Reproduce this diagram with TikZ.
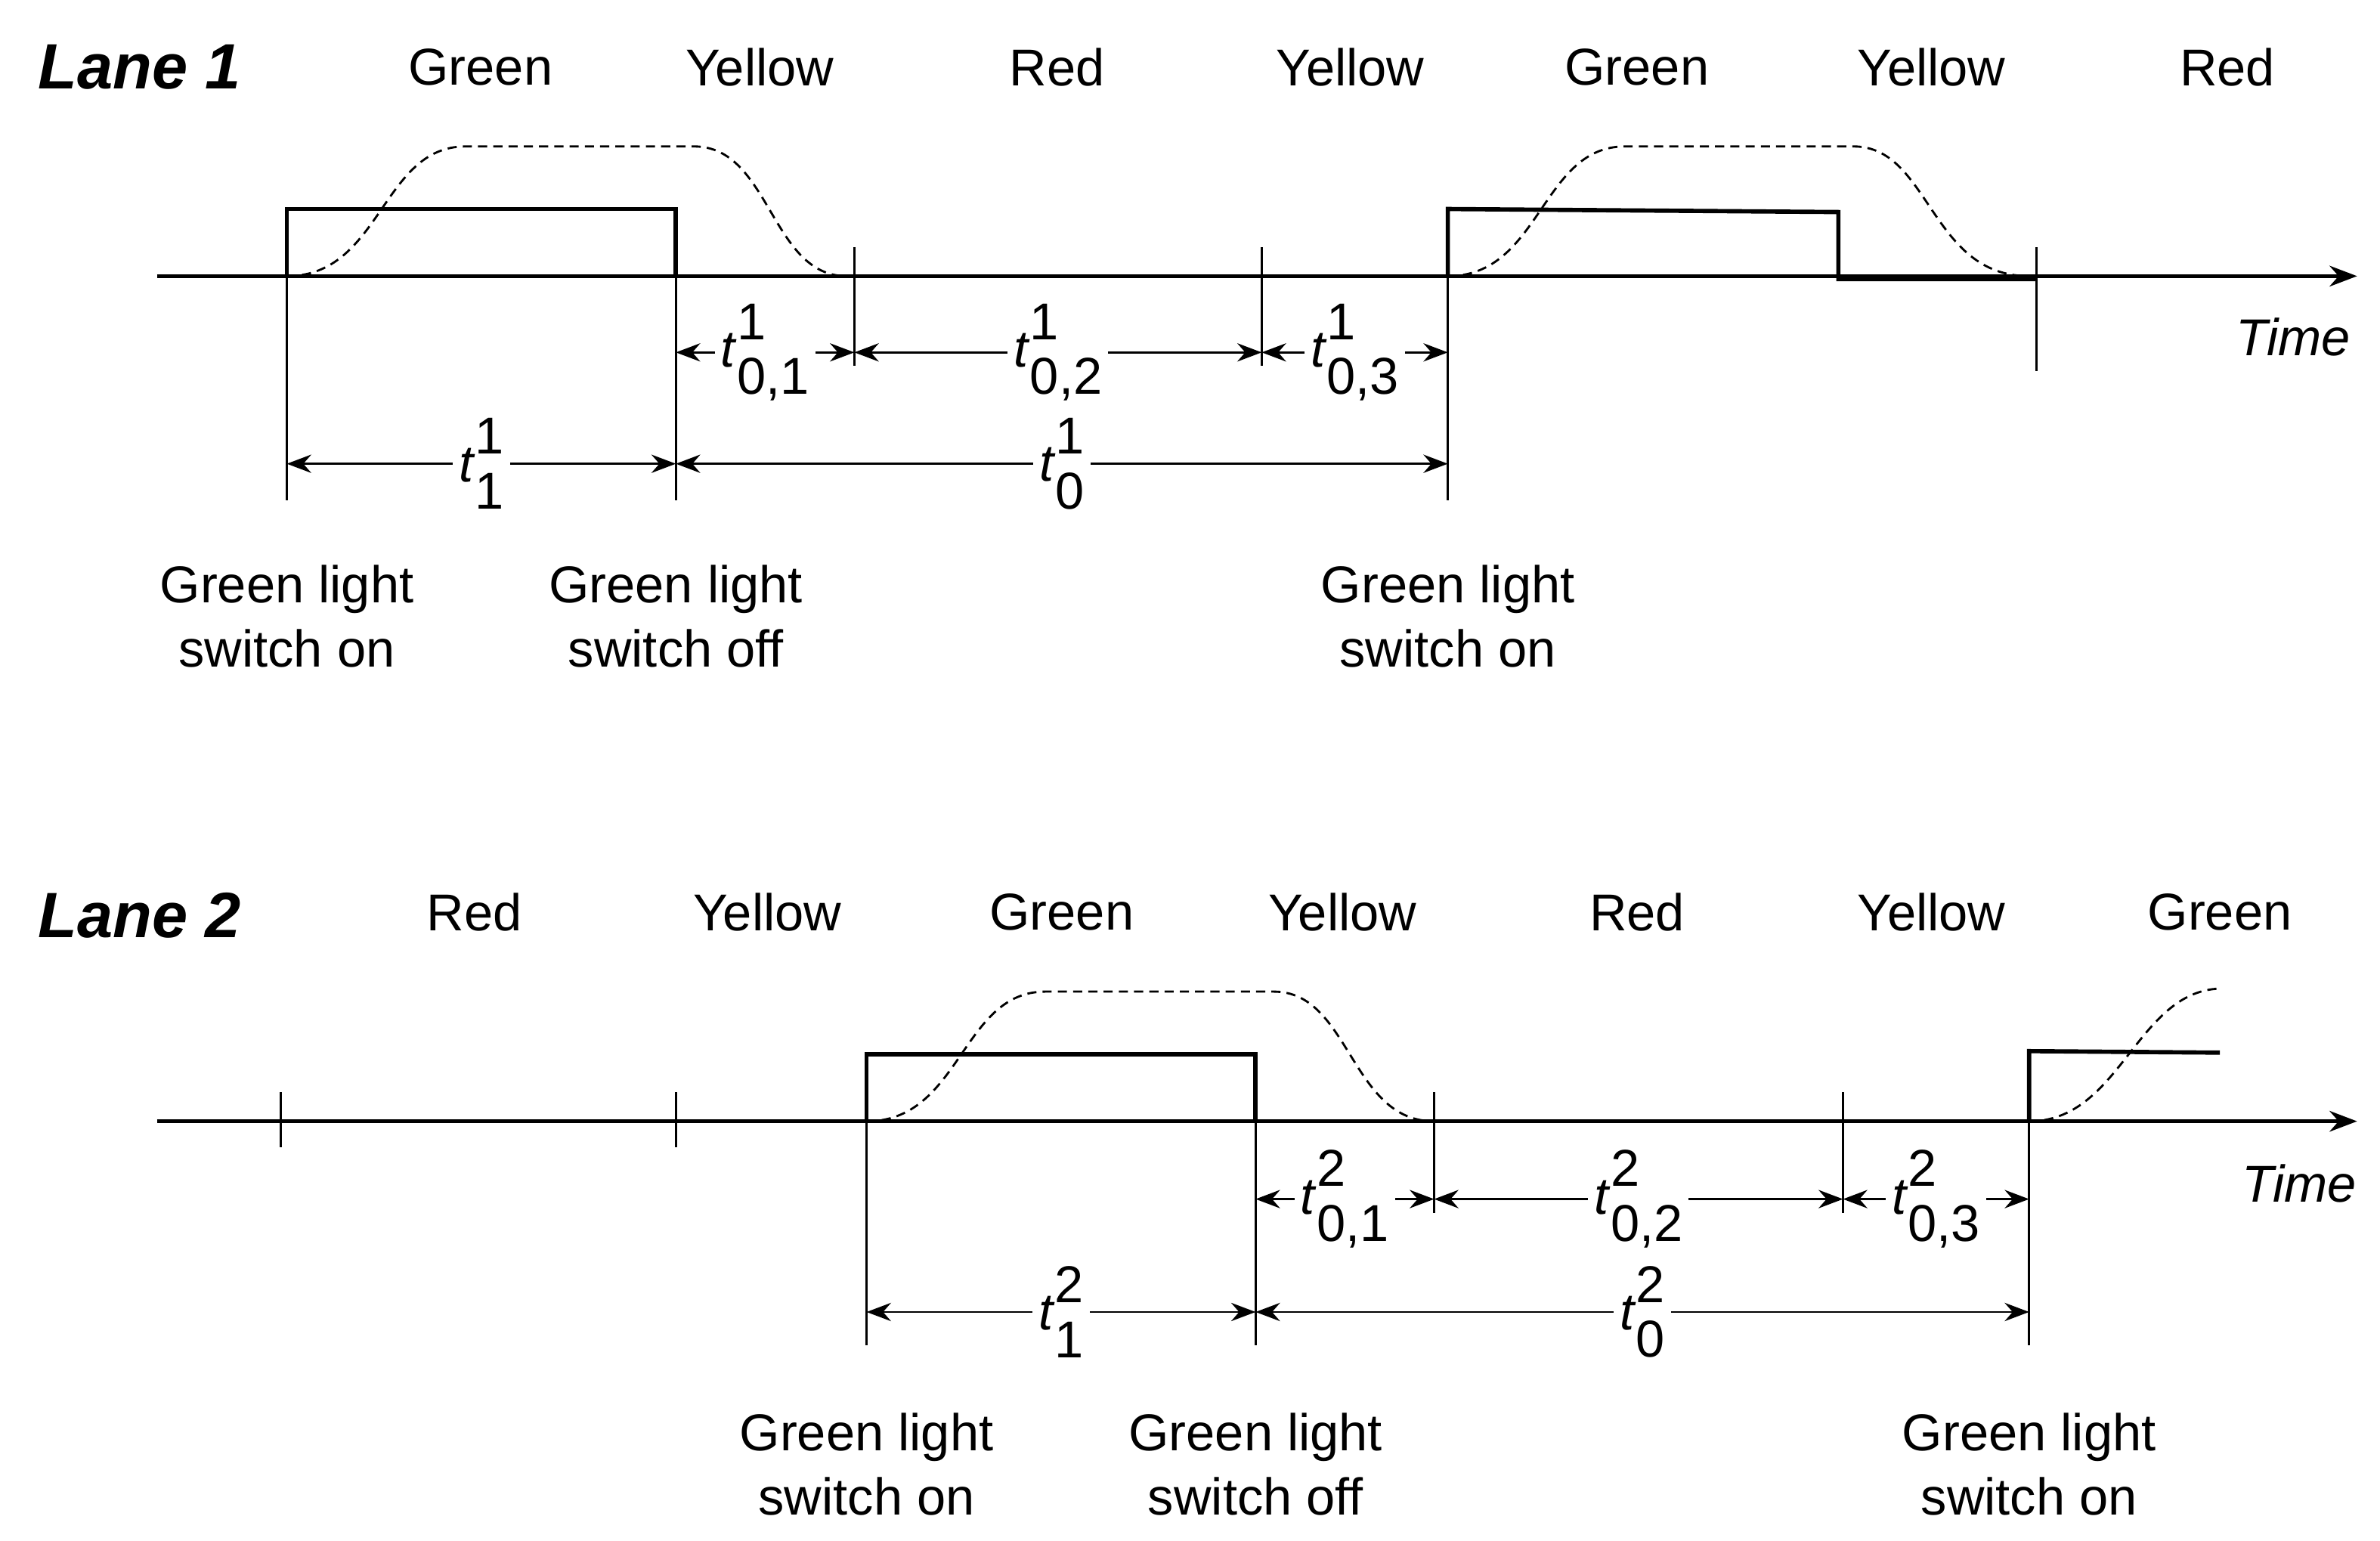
\documentclass[tikz,border=0pt]{standalone}
\usepackage{fontspec}
\setmainfont{Liberation Sans}
\usetikzlibrary{arrows.meta}
\newcommand{\tlab}[2]{\textit{t}\makebox[0pt][l]{\raisebox{1.0ex}{#1}}\raisebox{-1.0ex}{#2}}
\tikzset{
 axis/.style={line width=1.4pt,-{Stealth[length=9pt]}},
 sig/.style={line width=1.4pt},
 guide/.style={line width=0.7pt},
 curve/.style={line width=0.7pt,dashed,dash pattern=on 3pt off 2pt},
 dim/.style={line width=0.7pt,{Stealth[length=8pt]}-{Stealth[length=8pt]}},
 lbl/.style={fill=white,inner sep=2pt},
 phase/.style={font=\fontsize{17}{20}\selectfont},
 lane/.style={font=\fontsize{21}{24}\selectfont\bfseries\itshape,anchor=west},
 note/.style={font=\fontsize{17}{21}\selectfont,align=center}
}
\begin{document}
\begin{tikzpicture}[x=0.5pt,y=-0.5pt,font=\fontsize{17}{20}\selectfont]
\useasboundingbox (0,0) rectangle (1560,1010);

% Lane 1
\node[lane] (L1) at (18,44) {Lane 1};
\foreach \x/\t [count=\i] in {315/Green,498/Yellow,693/Red,885/Yellow,1073/Green,1266/Yellow,1460/Red}
 \node[phase] (pa\i) at (\x,44) {\t};
\coordinate (a0) at (103,181); \coordinate (a9) at (1545,181);
\draw[axis] (a0) -- (a9);
\node[font=\fontsize{17}{20}\selectfont\itshape] (ta) at (1503,221) {Time};
\draw[sig] (103,181) -- (188,181) -- (188,137) -- (443,137) -- (443,181);
\draw[sig] (949,181) -- (949,137) -- (1205,139) -- (1205,183) -- (1335,183);
\draw[curve] (188,181) .. controls (250,181) and (250,96) .. (305,96) -- (455,96) .. controls (505,96) and (505,181) .. (555,181);
\draw[curve] (949,181) .. controls (1010,181) and (1010,96) .. (1065,96) -- (1215,96) .. controls (1265,96) and (1265,181) .. (1330,181);
\foreach \x in {560,827} \draw[guide] (\x,162) -- (\x,240);
\draw[guide] (1335,162) -- (1335,243);
\foreach \x in {188,443,949} \draw[guide] (\x,137) -- (\x,328);
\coordinate (a1) at (443,231); \coordinate (a2) at (560,231);
\coordinate (a3) at (827,231); \coordinate (a4) at (949,231);
\coordinate (b1) at (188,304); \coordinate (b2) at (443,304); \coordinate (b3) at (949,304);
\draw[dim] (a1) -- node[lbl] {\tlab{1}{0,1}} (a2);
\draw[dim] (a2) -- node[lbl] {\tlab{1}{0,2}} (a3);
\draw[dim] (a3) -- node[lbl] {\tlab{1}{0,3}} (a4);
\draw[dim] (b1) -- node[lbl] {\tlab{1}{1}} (b2);
\draw[dim] (b2) -- node[lbl] {\tlab{1}{0}} (b3);
\node[note] (n1) at (188,404) {Green light\\switch on};
\node[note] (n2) at (443,404) {Green light\\switch off};
\node[note] (n3) at (949,404) {Green light\\switch on};

% Lane 2
\node[lane] (L2) at (18,600) {Lane 2};
\foreach \x/\t [count=\i] in {311/Red,503/Yellow,696/Green,880/Yellow,1073/Red,1266/Yellow,1455/Green}
 \node[phase] (pb\i) at (\x,598) {\t};
\coordinate (c0) at (103,735); \coordinate (c9) at (1545,735);
\draw[axis] (c0) -- (c9);
\node[font=\fontsize{17}{20}\selectfont\itshape] (tb) at (1507,776) {Time};
\draw[sig] (103,735) -- (568,735) -- (568,691) -- (823,691) -- (823,735);
\draw[sig] (1330,735) -- (1330,689) -- (1455,690);
\draw[curve] (568,735) .. controls (630,735) and (630,650) .. (685,650) -- (835,650) .. controls (885,650) and (885,735) .. (940,735);
\draw[curve] (1330,735) .. controls (1390,735) and (1400,650) .. (1455,648);
\foreach \x in {184,443} \draw[guide] (\x,716) -- (\x,752);
\foreach \x in {940,1208} \draw[guide] (\x,716) -- (\x,795);
\foreach \x in {568,823,1330} \draw[guide] (\x,691) -- (\x,882);
\coordinate (d1) at (823,786); \coordinate (d2) at (940,786);
\coordinate (d3) at (1208,786); \coordinate (d4) at (1330,786);
\coordinate (e1) at (568,860); \coordinate (e2) at (823,860); \coordinate (e3) at (1330,860);
\draw[dim] (d1) -- node[lbl] {\tlab{2}{0,1}} (d2);
\draw[dim] (d2) -- node[lbl] {\tlab{2}{0,2}} (d3);
\draw[dim] (d3) -- node[lbl] {\tlab{2}{0,3}} (d4);
\draw[dim] (e1) -- node[lbl] {\tlab{2}{1}} (e2);
\draw[dim] (e2) -- node[lbl] {\tlab{2}{0}} (e3);
\node[note] (m1) at (568,960) {Green light\\switch on};
\node[note] (m2) at (823,960) {Green light\\switch off};
\node[note] (m3) at (1330,960) {Green light\\switch on};
\end{tikzpicture}
\end{document}
